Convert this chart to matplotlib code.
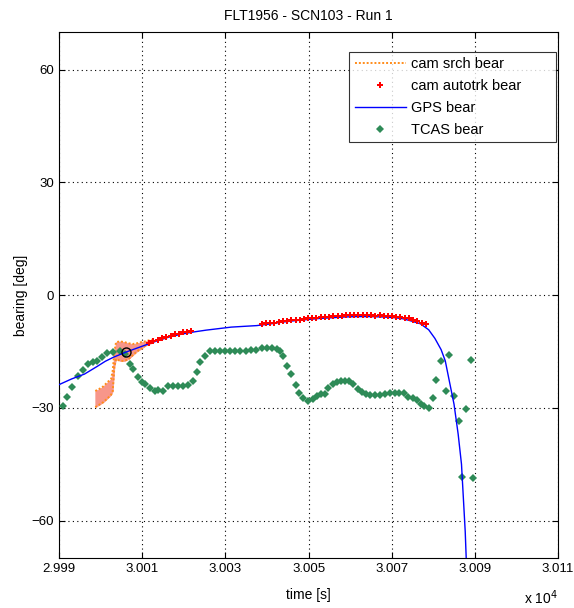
import matplotlib
matplotlib.use('Agg')
import matplotlib.pyplot as plt
from matplotlib.ticker import FuncFormatter
import numpy as np

plt.rcParams.update({'font.family': ['Liberation Sans', 'DejaVu Sans'], 'font.size': 10})

# GPS bearing track
gps_t = [29990.0, 29993.0, 29996.1, 29999.1, 30001.1, 30003.1, 30006.2, 30010.2, 30013.2, 30016.3,
         30019.3, 30022.3, 30025.4, 30028.4, 30031.4, 30034.4, 30037.5, 30040.5, 30043.5, 30046.6,
         30049.6, 30052.6, 30055.7, 30058.7, 30061.7, 30064.8, 30067.8, 30070.8, 30072.8, 30074.8,
         30076.9, 30078.9, 30080.4, 30081.9, 30082.9, 30083.9, 30085.0, 30086.0, 30086.8, 30087.3,
         30087.7, 30088.0]
gps_b = [-23.8, -22.3, -21.0, -19.0, -17.6, -16.5, -15.1, -13.5, -12.3, -11.2,
         -10.4, -9.8, -9.3, -8.9, -8.5, -8.3, -8.1, -7.7, -7.2, -6.8,
         -6.5, -6.2, -6.0, -5.8, -5.7, -5.7, -5.8, -6.0, -6.3, -6.9,
         -7.6, -9.2, -11.5, -14.5, -17.5, -23.0, -29.0, -37.0, -45.0, -55.0,
         -63.0, -72.0]

# camera search bearing band
srch_t = [29998.7, 29999.6, 30000.6, 30001.6, 30002.5, 30002.9, 30003.3, 30003.7, 30004.7,
          30005.7, 30006.7, 30007.7, 30008.7, 30009.7, 30010.7, 30011.7, 30012.7]
srch_hi = [-25.5, -25.0, -24.3, -23.2, -22.3, -20.0, -15.0, -12.5, -12.3,
           -12.5, -12.8, -13.0, -12.8, -12.5, -12.3, -12.0, -11.8]
srch_lo = [-29.8, -29.2, -28.5, -27.5, -26.5, -25.5, -19.0, -17.0, -17.5,
           -17.5, -17.0, -16.0, -15.0, -14.3, -13.5, -13.0, -12.5]

# camera autotrack bearing
trk1_t = [30011.7, 30012.7, 30013.7, 30014.8, 30015.8, 30016.8, 30017.8, 30018.8, 30019.8, 30020.8, 30021.8]
trk1_b = [-12.6, -12.2, -11.9, -11.4, -11.0, -10.8, -10.4, -10.2, -9.9, -9.7, -9.5]
trk2_t = [30038.8, 30039.8, 30040.8, 30041.8, 30042.8, 30043.9, 30044.9, 30045.9, 30046.9, 30047.9,
          30048.9, 30049.9, 30050.9, 30051.9, 30052.9, 30054.0, 30055.0, 30056.0, 30057.0, 30058.0,
          30059.0, 30060.0, 30061.0, 30062.0, 30063.0, 30064.1, 30065.1, 30066.1, 30067.1, 30068.1,
          30069.1, 30070.1, 30071.1, 30072.1, 30073.1, 30074.2, 30075.2, 30076.2, 30077.2, 30078.2]
trk2_b = [-7.7, -7.5, -7.3, -7.4, -7.1, -6.9, -6.9, -6.7, -6.5, -6.5,
          -6.3, -6.2, -6.1, -6.2, -5.9, -5.8, -5.7, -5.6, -5.5, -5.6,
          -5.4, -5.3, -5.4, -5.3, -5.3, -5.4, -5.3, -5.5, -5.4, -5.5,
          -5.6, -5.5, -5.7, -5.8, -6.0, -6.2, -6.5, -6.9, -7.3, -7.7]

# TCAS bearing
tcas_t = [29990.9, 29992.0, 29993.0, 29994.6, 29995.8, 29997.0, 29998.1, 29999.1, 30000.3, 30001.5,
          30003.0, 30004.7, 30005.8, 30007.1, 30007.8, 30009.0, 30010.0, 30010.6, 30011.9, 30013.1,
          30013.8, 30015.1, 30016.3, 30017.5, 30018.7, 30019.9, 30021.0, 30022.2, 30023.1, 30023.9,
          30025.2, 30026.4, 30027.6, 30028.8, 30030.0, 30031.2, 30032.4, 30033.6, 30034.9, 30036.1,
          30037.3, 30038.8, 30040.0, 30041.2, 30042.4, 30043.1, 30043.8, 30044.9, 30045.8, 30047.0,
          30047.8, 30048.7, 30049.9, 30051.1, 30052.0, 30053.0, 30053.9, 30054.8, 30055.9, 30056.9,
          30057.8, 30058.8, 30059.7, 30060.7, 30061.9, 30062.8, 30063.8, 30064.8, 30066.0, 30067.2,
          30068.4, 30069.6, 30070.8, 30071.8, 30072.9, 30073.9, 30075.2, 30076.1, 30077.1, 30077.8,
          30079.0, 30080.0, 30080.7, 30081.9, 30083.0, 30083.8, 30084.9, 30086.1, 30086.9, 30087.9,
          30089.0, 30089.6]
tcas_b = [-29.6, -27.2, -24.4, -21.5, -19.9, -18.3, -17.8, -17.5, -16.5, -15.4,
          -15.1, -14.9, -15.7, -18.3, -19.6, -21.8, -23.1, -23.6, -24.7, -25.5,
          -25.2, -25.5, -24.2, -24.2, -24.2, -24.2, -24.0, -22.8, -20.4, -17.8,
          -16.2, -14.9, -14.9, -14.9, -14.9, -14.9, -14.9, -14.8, -14.8, -14.6,
          -14.5, -14.1, -14.1, -14.1, -14.3, -14.9, -16.2, -18.8, -21.0, -23.9,
          -26.0, -27.3, -28.1, -27.6, -26.8, -26.3, -26.3, -24.7, -23.6, -23.1,
          -22.8, -22.8, -22.8, -23.6, -24.9, -25.8, -26.3, -26.5, -26.5, -26.5,
          -26.3, -26.0, -26.0, -26.0, -26.0, -27.1, -27.3, -27.9, -28.9, -29.5,
          -30.0, -27.4, -22.7, -17.6, -25.6, -15.8, -26.9, -33.5, -48.4, -30.4,
          -17.2, -48.7]

# acquisition point
acq_t = [30006.0]
acq_b = [-15.0]

x_ticks = [29990, 30010, 30030, 30050, 30070, 30090, 30110]
y_ticks = [-60, -30, 0, 30, 60]

fig = plt.figure(figsize=(5.74, 6.08), dpi=100)
ax = fig.add_axes([0.103, 0.082, 0.869, 0.865])

ax.fill_between(srch_t, srch_lo, srch_hi, facecolor='#f7968a', edgecolor='#f7968a', lw=0.5, zorder=2)
ax.plot(srch_t, srch_hi, linestyle=(0, (1, 1)), color='#ff8c1a', lw=1.4, label='cam srch bear', zorder=3)
ax.plot(srch_t, srch_lo, linestyle=(0, (1, 1)), color='#ff8c1a', lw=1.4, zorder=3)
ax.plot(trk1_t, trk1_b, 'P', color='red', ms=4.5, mew=0, label='cam autotrk bear', zorder=5)
ax.plot(trk2_t, trk2_b, 'P', color='red', ms=4.5, mew=0, zorder=5)
ax.plot(gps_t, gps_b, '-', color='#0000ff', lw=1, label='GPS bear', zorder=4)
ax.plot(tcas_t, tcas_b, 'D', color='#2e8b57', ms=4, mew=0, label='TCAS bear', zorder=3)
ax.plot(acq_t, acq_b, 'o', mfc='none', mec='black', ms=6.5, mew=1, zorder=6)

ax.set_xlim(29990, 30110)
ax.set_ylim(-70, 70)
ax.set_xticks(x_ticks)
ax.set_yticks(y_ticks)
ax.xaxis.set_major_formatter(FuncFormatter(lambda v, p: f'{v / 1e4:.3f}'))
ax.tick_params(direction='in', length=4, width=0.8, top=True, right=True, labelsize=9.5)
ax.grid(True, color='black', linestyle=(0, (1, 3)), linewidth=0.8)
for s in ax.spines.values():
    s.set_linewidth(0.8)

ax.set_title('FLT1956 - SCN103 - Run 1', fontsize=10, pad=9)
ax.set_xlabel('time [s]', fontsize=10, labelpad=9)
ax.set_ylabel('bearing [deg]', fontsize=10, labelpad=3)
fig.text(0.913, 0.006, r'x 10$^4$', fontsize=10)

leg = ax.legend(loc='upper left', bbox_to_anchor=(0.582, 0.791, 0.414, 0.171), mode='expand',
                fontsize=10.5, frameon=True, fancybox=False, edgecolor='black',
                handlelength=3.5, borderpad=0.35, labelspacing=0.55, handletextpad=0.35,
                borderaxespad=0)
leg.get_frame().set_linewidth(0.8)

fig.savefig('out.png', dpi=100, facecolor='white')
